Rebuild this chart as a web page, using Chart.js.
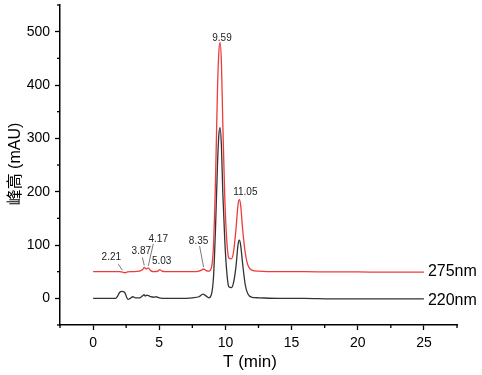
<!DOCTYPE html>
<html><head><meta charset="utf-8">
<script src="https://cdn.jsdelivr.net/npm/chart.js@4.4.1/dist/chart.umd.min.js"></script>
<style>html,body{margin:0;padding:0;background:#fff}#c{display:block}</style>
</head><body>
<canvas id="c" width="482" height="375"></canvas>
<script>
// 275nm trace
const t275 = [0,1.5,2.0,2.21,2.4,2.6,3.0,3.5,3.75,3.87,4.0,4.17,4.35,4.6,4.9,5.03,5.2,5.5,6.5,7.5,8.0,8.2,8.35,8.55,8.75,8.95,9.1,9.25,9.4,9.5,9.59,9.7,9.8,9.95,10.1,10.25,10.45,10.6,10.8,10.95,11.05,11.15,11.3,11.5,11.7,12.0,12.5,14,16,18,20,22,25];
const a275 = [50,50,50,49,48,49.5,50,51,54,58,55,57,52,50,51,54,51,50,50,50,51,53,55,52,51,58,100,220,390,460,480,440,330,190,110,76,74,85,130,175,185,175,130,85,62,53,51,50,50,49.5,49.5,49,49];
// 220nm trace
const t220 = [0,1.7,1.85,2.0,2.2,2.35,2.45,2.55,2.65,2.8,3.0,3.2,3.5,3.75,3.85,3.95,4.05,4.2,4.35,4.6,4.75,5.0,5.5,6.5,7.5,8.0,8.3,8.5,8.75,8.95,9.1,9.25,9.4,9.5,9.59,9.7,9.8,9.95,10.1,10.25,10.45,10.6,10.8,10.95,11.05,11.15,11.3,11.5,11.7,12.0,12.5,14,16,18,20,22,25];
const a220 = [0,0,4,11,13,12,8,1,-2,0,3,1,1,5,7,4,6,5,3,2,3,1,0,0,1,3,8,5,1,8,40,130,250,305,320,285,200,110,50,22,20,28,60,100,109,100,65,25,8,2,1,0,0,-1,-1,-1,-1];
// peak labels (275nm)
const peakTimes = [2.21,3.87,4.17,5.03,8.35,9.59,11.05];
const peakLabels = ["2.21","3.87","4.17","5.03","8.35","9.59","11.05"];
const seriesNames = ["275nm","220nm"];
const xTicks = [0,5,10,15,20,25];
const yTicks = [0,100,200,300,400,500];

function pts(t,a){return t.map((x,i)=>({x:x,y:a[i]}));}
function interp(t,a,x){for(let i=1;i<t.length;i++){if(x<=t[i]){const f=(x-t[i-1])/(t[i]-t[i-1]);return a[i-1]+f*(a[i]-a[i-1]);}}return a[a.length-1];}

const labelStyle = {
 "2.21":{dx:-11,dy:-14,lead:[-4,-8]},
 "3.87":{dx:-3,dy:-15,lead:[-2,-10]},
 "4.17":{dx:10,dy:-28,lead:[5,-24]},
 "5.03":{dx:2,dy:-7,lead:null},
 "8.35":{dx:-5,dy:-27,lead:[-4,-23]},
 "9.59":{dx:2,dy:-3,lead:null},
 "11.05":{dx:6,dy:-6,lead:null}
};

const deco = {
 id:'deco',
 afterDraw(chart){
  const ctx=chart.ctx, xs=chart.scales.x, ys=chart.scales.y, ca=chart.chartArea;
  ctx.save();
  ctx.strokeStyle='#000'; ctx.lineWidth=1.3;
  for(let v=-2.5; v<=27.5; v+=5){const px=xs.getPixelForValue(v);ctx.beginPath();ctx.moveTo(px,ca.bottom);ctx.lineTo(px,ca.bottom+3);ctx.stroke();}
  for(let v=-50; v<=550; v+=100){const py=ys.getPixelForValue(v);ctx.beginPath();ctx.moveTo(ca.left,py);ctx.lineTo(ca.left-3,py);ctx.stroke();}
  ctx.font='10px "Liberation Sans", Arial, sans-serif';
  ctx.fillStyle='#222'; ctx.textAlign='center'; ctx.textBaseline='bottom';
  peakTimes.forEach((tt,i)=>{
   const lab=peakLabels[i], st=labelStyle[lab];
   const px=xs.getPixelForValue(tt), py=ys.getPixelForValue(interp(t275,a275,tt));
   ctx.fillText(lab, px+st.dx, py+st.dy+4);
   if(st.lead){ctx.strokeStyle='#555';ctx.lineWidth=0.8;ctx.beginPath();ctx.moveTo(px+st.lead[0],py+st.lead[1]);ctx.lineTo(px,py-2);ctx.stroke();}
  });
  ctx.font='16px "Liberation Sans", Arial, sans-serif';
  ctx.fillStyle='#000'; ctx.textAlign='left'; ctx.textBaseline='middle';
  ctx.fillText(seriesNames[0], xs.getPixelForValue(25)+4, ys.getPixelForValue(a275[a275.length-1])-1);
  ctx.fillText(seriesNames[1], xs.getPixelForValue(25)+4, ys.getPixelForValue(a220[a220.length-1])+2);
  ctx.font='17px "Liberation Sans", Arial, sans-serif';
  ctx.textAlign='center'; ctx.textBaseline='middle';
  ctx.fillText('T (min)', 250, 362);
  ctx.translate(16,164); ctx.rotate(-Math.PI/2);
  ctx.font='16px "Liberation Sans", Arial, "Noto Sans CJK SC", sans-serif';
  ctx.fillText('峰高 (mAU)',0,0);
  ctx.restore();
 }
};

new Chart(document.getElementById('c'),{
 type:'line',
 data:{datasets:[
  {label:seriesNames[0],data:pts(t275,a275),borderColor:'#ee3b3b',borderWidth:1.3,pointRadius:0,cubicInterpolationMode:'monotone',fill:false,order:1},
  {label:seriesNames[1],data:pts(t220,a220),borderColor:'#333333',borderWidth:1.3,pointRadius:0,cubicInterpolationMode:'monotone',fill:false,order:2}
 ]},
 options:{
  responsive:false,animation:false,
  layout:{padding:{top:5,right:25,left:0,bottom:0}},
  plugins:{legend:{display:false},tooltip:{enabled:false}},
  scales:{
   x:{type:'linear',min:-2.5,max:27.5,
      afterFit(s){s.height=50;s.paddingLeft=0;s.paddingRight=0;},
      afterBuildTicks(s){s.ticks=xTicks.map(v=>({value:v}));},
      ticks:{font:{size:14,family:'"Liberation Sans", Arial, sans-serif'},color:'#000',padding:5,maxRotation:0},
      grid:{drawOnChartArea:false,tickLength:5,tickColor:'#000',tickWidth:1.3},
      border:{color:'#000',width:1.5}},
   y:{min:-50,max:550,
      afterFit(s){s.width=60;s.paddingTop=0;s.paddingBottom=0;},
      afterBuildTicks(s){s.ticks=yTicks.map(v=>({value:v}));},
      ticks:{font:{size:14,family:'"Liberation Sans", Arial, sans-serif'},color:'#000',padding:5},
      grid:{drawOnChartArea:false,tickLength:5,tickColor:'#000',tickWidth:1.3},
      border:{color:'#000',width:1.5}}
  }
 },
 plugins:[deco]
});
</script>
</body></html>
